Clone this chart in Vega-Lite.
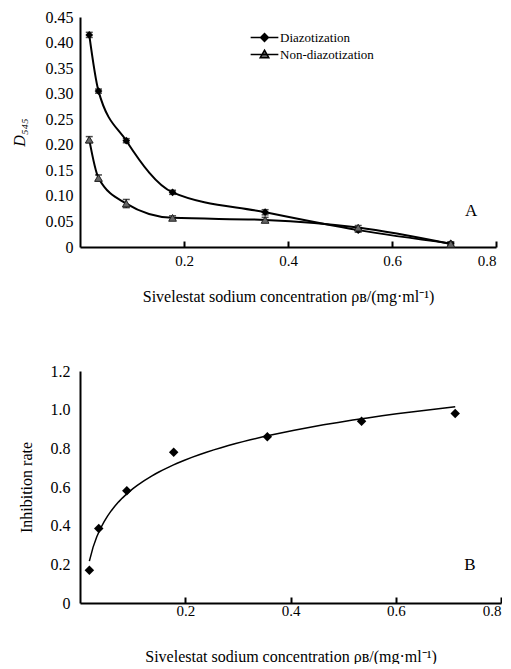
{
  "$schema": "https://vega.github.io/schema/vega-lite/v6.json",
  "padding": {"left": 11, "top": 9, "right": 0, "bottom": 0},
  "background": "white",
  "spacing": 59,
  "config": {
    "font": "Liberation Serif, Times New Roman, serif",
    "view": {"stroke": null},
    "axis": {
      "grid": false,
      "domainColor": "black",
      "domainWidth": 2,
      "labelFont": "Liberation Serif, Times New Roman, serif",
      "titleFont": "Liberation Serif, Times New Roman, serif",
      "labelColor": "black",
      "titleColor": "black",
      "labelFontSize": 15,
      "titleFontSize": 16,
      "titleFontWeight": "normal",
      "tickColor": "black",
      "tickWidth": 2
    },
    "axisY": {"labelFontSize": 16},
    "legend": {
      "labelFont": "Liberation Serif, Times New Roman, serif"
    }
  },
  "datasets": {
    "a": [
      {"series": "Diazotization", "x": 0.0178, "y": 0.415, "err": 0.005},
      {"series": "Diazotization", "x": 0.0356, "y": 0.305, "err": 0.004},
      {"series": "Diazotization", "x": 0.089, "y": 0.208, "err": 0.004},
      {"series": "Diazotization", "x": 0.178, "y": 0.107, "err": 0.004},
      {"series": "Diazotization", "x": 0.356, "y": 0.068, "err": 0.005},
      {"series": "Diazotization", "x": 0.535, "y": 0.033, "err": 0.004},
      {"series": "Diazotization", "x": 0.713, "y": 0.007, "err": 0.003},
      {"series": "Non-diazotization", "x": 0.0178, "y": 0.21, "err": 0.006},
      {"series": "Non-diazotization", "x": 0.0356, "y": 0.135, "err": 0.006},
      {"series": "Non-diazotization", "x": 0.089, "y": 0.085, "err": 0.008},
      {"series": "Non-diazotization", "x": 0.178, "y": 0.057, "err": 0.004},
      {"series": "Non-diazotization", "x": 0.356, "y": 0.053, "err": 0.005},
      {"series": "Non-diazotization", "x": 0.535, "y": 0.038, "err": 0.004},
      {"series": "Non-diazotization", "x": 0.713, "y": 0.006, "err": 0.003}
    ],
    "b": [
      {"x": 0.0178, "y": 0.17},
      {"x": 0.0356, "y": 0.385},
      {"x": 0.089, "y": 0.58},
      {"x": 0.178, "y": 0.78},
      {"x": 0.356, "y": 0.86},
      {"x": 0.535, "y": 0.94},
      {"x": 0.713, "y": 0.98}
    ]
  },
  "vconcat": [
    {
      "width": 416,
      "height": 230,
      "data": {"name": "a"},
      "encoding": {
        "x": {
          "field": "x", "type": "quantitative",
          "scale": {"domain": [0, 0.8], "nice": false},
          "axis": {
            "values": [0.2, 0.4, 0.6, 0.8], "format": ".1f",
            "title": "Sivelestat sodium concentration ρʙ/(mg·ml⁻¹)",
            "tickSize": -6, "labelPadding": 12, "titlePadding": 20
          }
        },
        "y": {
          "field": "y", "type": "quantitative",
          "scale": {"domain": [0, 0.45], "nice": false},
          "axis": {
            "values": [0, 0.05, 0.1, 0.15, 0.2, 0.25, 0.3, 0.35, 0.4, 0.45],
            "labelExpr": "datum.value === 0 ? '0' : format(datum.value, '.2f')",
            "ticks": false, "labelPadding": 7, "titlePadding": 18,
            "title": "D₅₄₅", "titleFontStyle": "italic"
          }
        }
      },
      "layer": [
        {
          "mark": {"type": "line", "interpolate": "monotone", "color": "black", "strokeWidth": 2},
          "encoding": {"detail": {"field": "series"}}
        },
        {
          "mark": {"type": "errorbar", "ticks": {"size": 7}, "color": "black", "thickness": 1.5},
          "encoding": {"yError": {"field": "err"}, "detail": {"field": "series"}}
        },
        {
          "transform": [{"filter": "datum.series === 'Diazotization'"}],
          "mark": {"type": "point", "shape": "diamond", "filled": true, "opacity": 1, "size": 60, "color": "black"}
        },
        {
          "transform": [{"filter": "datum.series === 'Non-diazotization'"}],
          "mark": {"type": "point", "shape": "triangle-up", "filled": true, "opacity": 1, "size": 60, "fill": "#666666", "stroke": "#222222", "strokeWidth": 1}
        },
        {
          "transform": [{"filter": "false"}],
          "mark": {"type": "point", "filled": true, "opacity": 1, "stroke": "black", "strokeWidth": 1.5},
          "encoding": {
            "shape": {
              "field": "series", "type": "nominal",
              "scale": {
                "domain": ["Diazotization", "Non-diazotization"],
                "range": ["M-1.6,0H1.6M0,-0.45L0.45,0L0,0.45L-0.45,0Z", "M-1.6,0H1.6M0,-0.5L0.5,0.38L-0.5,0.38Z"]
              },
              "legend": {
                "title": null, "orient": "none", "legendX": 175, "legendY": 11,
                "symbolSize": 300, "labelOffset": 6, "rowPadding": 0,
                "symbolStrokeColor": "black", "symbolStrokeWidth": 1.5,
                "labelFontSize": 13, "labelColor": "black"
              }
            },
            "color": {
              "field": "series", "type": "nominal",
              "scale": {"domain": ["Diazotization", "Non-diazotization"], "range": ["black", "#666666"]}
            }
          }
        },
        {
          "data": {"values": [{"x": 0.752, "y": 0.07, "label": "A"}]},
          "mark": {"type": "text", "fontSize": 17, "color": "black"},
          "encoding": {"text": {"field": "label"}}
        }
      ]
    },
    {
      "width": 421,
      "height": 232,
      "data": {"name": "b"},
      "encoding": {
        "x": {
          "field": "x", "type": "quantitative",
          "scale": {"domain": [0, 0.8], "nice": false},
          "axis": {
            "values": [0.2, 0.4, 0.6, 0.8], "format": ".1f",
            "title": "Sivelestat sodium concentration ρʙ/(mg·ml⁻¹)",
            "tickSize": -6, "labelPadding": 6, "titlePadding": 30
          }
        },
        "y": {
          "field": "y", "type": "quantitative",
          "scale": {"domain": [0, 1.2], "nice": false},
          "axis": {
            "values": [0, 0.2, 0.4, 0.6, 0.8, 1.0, 1.2],
            "labelExpr": "datum.value === 0 ? '0' : format(datum.value, '.1f')",
            "ticks": false, "labelPadding": 10, "titlePadding": 16,
            "title": "Inhibition rate"
          }
        }
      },
      "layer": [
        {
          "transform": [{"regression": "y", "on": "x", "method": "log"}],
          "mark": {"type": "line", "color": "black", "strokeWidth": 1.5}
        },
        {
          "mark": {"type": "point", "shape": "diamond", "filled": true, "color": "black", "size": 90, "opacity": 1}
        },
        {
          "data": {"values": [{"x": 0.741, "y": 0.197, "label": "B"}]},
          "mark": {"type": "text", "fontSize": 17, "color": "black"},
          "encoding": {"text": {"field": "label"}}
        }
      ]
    }
  ]
}
